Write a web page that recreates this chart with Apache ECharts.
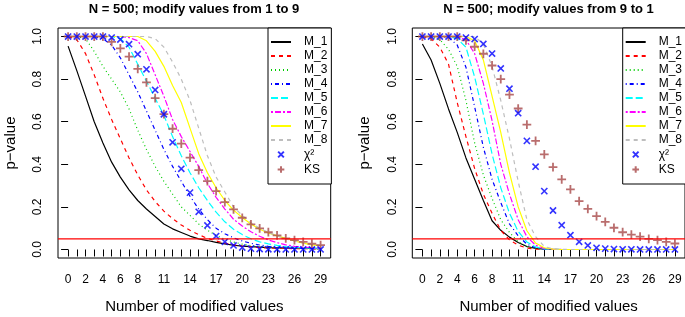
<!DOCTYPE html>
<html>
<head>
<meta charset="utf-8">
<script src="https://cdn.jsdelivr.net/npm/echarts@6/dist/echarts.min.js"></script>
<style>
  html, body { margin: 0; padding: 0; background: #fff; }
  #chart { width: 685px; height: 317px; }
</style>
</head>
<body>
<div id="chart"></div>
<script>
// x positions: number of modified values
const modified = Array.from({ length: 30 }, (_, i) => i);
const xTickLabels = [0, 2, 4, 6, 8, 11, 14, 17, 20, 23, 26, 29];
const yTickLabels = [0, 0.2, 0.4, 0.6, 0.8, 1.0];
const xRange = [-1.16, 30.16];
const yRange = [-0.04, 1.04];

// left panel: modify values from 1 to 9
const m1_a = [0.955, 0.84, 0.72, 0.60, 0.50, 0.41, 0.34, 0.28, 0.23, 0.19, 0.155, 0.12, 0.097, 0.08, 0.063, 0.05, 0.042, 0.033, 0.026, 0.02, 0.016, 0.013, 0.011, 0.009, 0.008, 0.007, 0.006, 0.005, 0.005, 0.004];
const m2_a = [1.0, 0.985, 0.92, 0.82, 0.71, 0.61, 0.52, 0.43, 0.35, 0.28, 0.225, 0.18, 0.145, 0.115, 0.09, 0.07, 0.052, 0.04, 0.03, 0.022, 0.016, 0.012, 0.009, 0.007, 0.006, 0.005, 0.004, 0.004, 0.003, 0.003];
const m3_a = [1.0, 1.0, 0.99, 0.93, 0.86, 0.8, 0.74, 0.66, 0.56, 0.47, 0.39, 0.32, 0.26, 0.2, 0.16, 0.12, 0.09, 0.066, 0.048, 0.035, 0.025, 0.018, 0.013, 0.01, 0.008, 0.006, 0.005, 0.004, 0.003, 0.003];
const m4_a = [1.0, 1.0, 1.0, 1.0, 0.99, 0.96, 0.9, 0.82, 0.74, 0.65, 0.56, 0.47, 0.39, 0.32, 0.25, 0.19, 0.14, 0.1, 0.074, 0.055, 0.04, 0.029, 0.021, 0.015, 0.011, 0.008, 0.006, 0.005, 0.004, 0.003];
const m5_a = [1.0, 1.0, 1.0, 1.0, 1.0, 1.0, 0.99, 0.95, 0.87, 0.79, 0.71, 0.63, 0.53, 0.44, 0.36, 0.29, 0.23, 0.175, 0.13, 0.095, 0.07, 0.05, 0.036, 0.026, 0.019, 0.014, 0.01, 0.008, 0.006, 0.005];
const m6_a = [1.0, 1.0, 1.0, 1.0, 1.0, 1.0, 1.0, 0.995, 0.98, 0.92, 0.82, 0.72, 0.61, 0.53, 0.46, 0.39, 0.31, 0.245, 0.19, 0.142, 0.11, 0.083, 0.062, 0.045, 0.032, 0.022, 0.015, 0.011, 0.008, 0.006];
const m7_a = [1.0, 1.0, 1.0, 1.0, 1.0, 1.0, 1.0, 1.0, 1.0, 0.98, 0.93, 0.86, 0.77, 0.69, 0.57, 0.45, 0.36, 0.29, 0.23, 0.185, 0.15, 0.12, 0.095, 0.078, 0.064, 0.052, 0.04, 0.03, 0.022, 0.017];
const m8_a = [1.0, 1.0, 1.0, 1.0, 1.0, 1.0, 1.0, 1.0, 1.0, 1.0, 0.99, 0.95, 0.88, 0.8, 0.7, 0.57, 0.44, 0.34, 0.27, 0.2, 0.16, 0.125, 0.1, 0.08, 0.064, 0.05, 0.04, 0.03, 0.023, 0.018];
const chi_a = [1.0, 1.0, 1.0, 1.0, 1.0, 0.995, 0.986, 0.964, 0.917, 0.846, 0.749, 0.635, 0.503, 0.379, 0.267, 0.177, 0.113, 0.063, 0.036, 0.019, 0.009, 0.004, 0.002, 0.001, 0.001, 0.0, 0.0, 0.0, 0.0, 0.0];
const ks_a = [1.0, 1.0, 1.0, 1.0, 1.0, 0.975, 0.944, 0.906, 0.848, 0.785, 0.711, 0.636, 0.567, 0.497, 0.431, 0.373, 0.321, 0.274, 0.222, 0.188, 0.149, 0.118, 0.099, 0.081, 0.066, 0.052, 0.044, 0.036, 0.027, 0.02];

// right panel: modify values from 9 to 1
const m1_b = [0.965, 0.89, 0.78, 0.66, 0.55, 0.43, 0.33, 0.23, 0.135, 0.09, 0.058, 0.033, 0.014, 0.005, 0.001, 0, 0, 0, 0, 0, 0, 0, 0, 0, 0, 0, 0, 0, 0, 0];
const m2_b = [1.0, 0.99, 0.95, 0.87, 0.69, 0.53, 0.38, 0.26, 0.17, 0.09, 0.045, 0.02, 0.007, 0.002, 0.001, 0, 0, 0, 0, 0, 0, 0, 0, 0, 0, 0, 0, 0, 0, 0];
const m3_b = [1.0, 1.0, 0.985, 0.94, 0.86, 0.7, 0.5, 0.35, 0.24, 0.14, 0.08, 0.036, 0.013, 0.004, 0.001, 0, 0, 0, 0, 0, 0, 0, 0, 0, 0, 0, 0, 0, 0, 0];
const m4_b = [1.0, 1.0, 1.0, 0.995, 0.96, 0.856, 0.67, 0.48, 0.33, 0.22, 0.12, 0.064, 0.025, 0.008, 0.002, 0, 0, 0, 0, 0, 0, 0, 0, 0, 0, 0, 0, 0, 0, 0];
const m5_b = [1.0, 1.0, 1.0, 1.0, 0.99, 0.95, 0.81, 0.636, 0.448, 0.29, 0.17, 0.085, 0.035, 0.012, 0.003, 0.001, 0, 0, 0, 0, 0, 0, 0, 0, 0, 0, 0, 0, 0, 0];
const m6_b = [1.0, 1.0, 1.0, 1.0, 1.0, 0.985, 0.92, 0.78, 0.605, 0.4, 0.26, 0.14, 0.06, 0.02, 0.005, 0.001, 0, 0, 0, 0, 0, 0, 0, 0, 0, 0, 0, 0, 0, 0];
const m7_b = [1.0, 1.0, 1.0, 1.0, 1.0, 1.0, 0.98, 0.89, 0.72, 0.55, 0.36, 0.2, 0.088, 0.03, 0.008, 0.002, 0, 0, 0, 0, 0, 0, 0, 0, 0, 0, 0, 0, 0, 0];
const m8_b = [1.0, 1.0, 1.0, 1.0, 1.0, 1.0, 1.0, 0.965, 0.86, 0.7, 0.52, 0.32, 0.14, 0.06, 0.014, 0.003, 0.001, 0, 0, 0, 0, 0, 0, 0, 0, 0, 0, 0, 0, 0];
const chi_b = [1.0, 1.0, 1.0, 1.0, 1.0, 0.995, 0.988, 0.965, 0.92, 0.85, 0.755, 0.64, 0.51, 0.389, 0.274, 0.183, 0.114, 0.067, 0.036, 0.019, 0.008, 0.004, 0.002, 0.001, 0.001, 0.0, 0.0, 0.0, 0.0, 0.0];
const ks_b = [1.0, 1.0, 1.0, 1.0, 1.0, 0.982, 0.952, 0.919, 0.864, 0.8, 0.727, 0.662, 0.586, 0.51, 0.447, 0.387, 0.329, 0.282, 0.227, 0.191, 0.157, 0.13, 0.102, 0.081, 0.07, 0.06, 0.05, 0.044, 0.036, 0.028];

const lineNames = ["M_1", "M_2", "M_3", "M_4", "M_5", "M_6", "M_7", "M_8"];
const chiName = "\u03C7\u00B2";
const alpha = 0.05;

// R default palette and lty 1..6
const lineColors = ["#000000", "#FF0000", "#00CD00", "#0000FF", "#00FFFF", "#FF00FF", "#FFFF00", "#BEBEBE"];
const lineDash = ["solid", [4, 4], [1, 3], [1, 3, 4, 3], [7, 3], [2, 2, 6, 2], "solid", [4, 4]];

const font = "Liberation Sans, Arial, sans-serif";
// zero-length end points pad the box so the marks are drawn a bit smaller than their symbol size
const crossPath = "path://M-2,-2L-2,-2M0,0L10,10M10,0L0,10M12,12L12,12";
const plusPath = "path://M-1,-1L-1,-1M5,0L5,10M0,5L10,5M11,11L11,11";

const chart = echarts.init(document.getElementById("chart"));

const pair = (arr) => arr.map((v, i) => [modified[i], v]);

function panelSeries(idx, lines, chi, ks) {
  const out = lines.map((arr, k) => ({
    name: lineNames[k],
    type: "line",
    xAxisIndex: idx,
    yAxisIndex: idx,
    data: pair(arr),
    symbol: "none",
    lineStyle: { color: lineColors[k], width: 1.2, type: lineDash[k] },
    itemStyle: { color: lineColors[k] },
    z: 2,
  }));
  // horizontal line at p = 0.05 across the whole plot
  out.push({
    name: "alpha",
    type: "line",
    xAxisIndex: idx,
    yAxisIndex: idx,
    data: [[xRange[0], alpha], [xRange[1], alpha]],
    symbol: "none",
    silent: true,
    lineStyle: { color: "#FF0000", width: 1.2, type: "solid" },
    itemStyle: { color: "#FF0000" },
    z: 5,
  });
  out.push({
    name: "KS",
    type: "scatter",
    xAxisIndex: idx,
    yAxisIndex: idx,
    data: pair(ks),
    symbol: plusPath,
    symbolSize: 10.5,
    symbolKeepAspect: true,
    itemStyle: { color: "none", borderColor: "#A84848", borderWidth: 1.8 },
    z: 3,
  });
  out.push({
    name: chiName,
    type: "scatter",
    xAxisIndex: idx,
    yAxisIndex: idx,
    data: pair(chi),
    symbol: crossPath,
    symbolSize: 8.6,
    symbolKeepAspect: true,
    itemStyle: { color: "none", borderColor: "#0000FF", borderWidth: 1.6 },
    z: 4,
  });
  return out;
}

function xAxisFor(idx) {
  return {
    type: "value",
    gridIndex: idx,
    min: xRange[0],
    max: xRange[1],
    name: "Number of modified values",
    nameLocation: "middle",
    nameGap: 41,
    nameTextStyle: { fontFamily: font, fontSize: 15, color: "#000" },
    axisLine: { show: false },
    axisTick: { show: true, length: 7, lineStyle: { color: "#000" }, customValues: modified },
    axisLabel: { fontFamily: font, fontSize: 12, color: "#000", margin: 16, customValues: xTickLabels },
    splitLine: { show: false },
  };
}

function yAxisFor(idx) {
  return {
    type: "value",
    gridIndex: idx,
    min: yRange[0],
    max: yRange[1],
    name: "p\u2212value",
    nameLocation: "middle",
    nameGap: 40,
    nameRotate: 90,
    nameTextStyle: { fontFamily: font, fontSize: 15, color: "#000" },
    axisLine: { show: false },
    axisTick: { show: true, length: 7, lineStyle: { color: "#000" }, customValues: yTickLabels },
    axisLabel: {
      fontFamily: font, fontSize: 12, color: "#000", margin: 14, rotate: 90,
      customValues: yTickLabels,
      formatter: (v) => v.toFixed(1),
    },
    splitLine: { show: false },
  };
}

function legendFor(left) {
  // line entries: hide the dot that echarts puts on the line icon
  const items = lineNames.map((n) => ({ name: n, itemStyle: { opacity: 0 } }));
  return {
    orient: "vertical",
    left: left,
    top: 28,
    data: items.concat([{ name: chiName }, { name: "KS" }]),
    itemWidth: 20,
    itemHeight: 8,
    itemGap: 2,
    padding: [8, 4, 8, 2],
    backgroundColor: "#fff",
    borderColor: "#000",
    borderWidth: 1,
    borderRadius: 0,
    selectedMode: false,
    textStyle: {
      fontFamily: font, fontSize: 12, color: "#000", lineHeight: 12,
      padding: [0, 0, 0, 8],
    },
  };
}

const gridBase = { top: 28, width: 272.7, height: 230, show: true, borderColor: "#000", borderWidth: 1, backgroundColor: "transparent", outerBoundsMode: "none", containLabel: false };

const option = {
  animation: false,
  backgroundColor: "#fff",
  grid: [
    Object.assign({ left: 58 }, gridBase),
    Object.assign({ left: 412.3 }, gridBase),
  ],
  xAxis: [xAxisFor(0), xAxisFor(1)],
  yAxis: [yAxisFor(0), yAxisFor(1)],
  legend: [legendFor(268), legendFor(622.7)],
  graphic: [
    { type: "text", x: 194, y: 3, style: { text: "N = 500; modify values from 1 to 9", font: "bold 13px " + font, fill: "#000", textAlign: "center", textVerticalAlign: "top" } },
    { type: "text", x: 548.5, y: 3, style: { text: "N = 500; modify values from 9 to 1", font: "bold 13px " + font, fill: "#000", textAlign: "center", textVerticalAlign: "top" } },
  ],
  series: panelSeries(0, [m1_a, m2_a, m3_a, m4_a, m5_a, m6_a, m7_a, m8_a], chi_a, ks_a)
    .concat(panelSeries(1, [m1_b, m2_b, m3_b, m4_b, m5_b, m6_b, m7_b, m8_b], chi_b, ks_b)),
};

chart.setOption(option);
</script>
</body>
</html>
